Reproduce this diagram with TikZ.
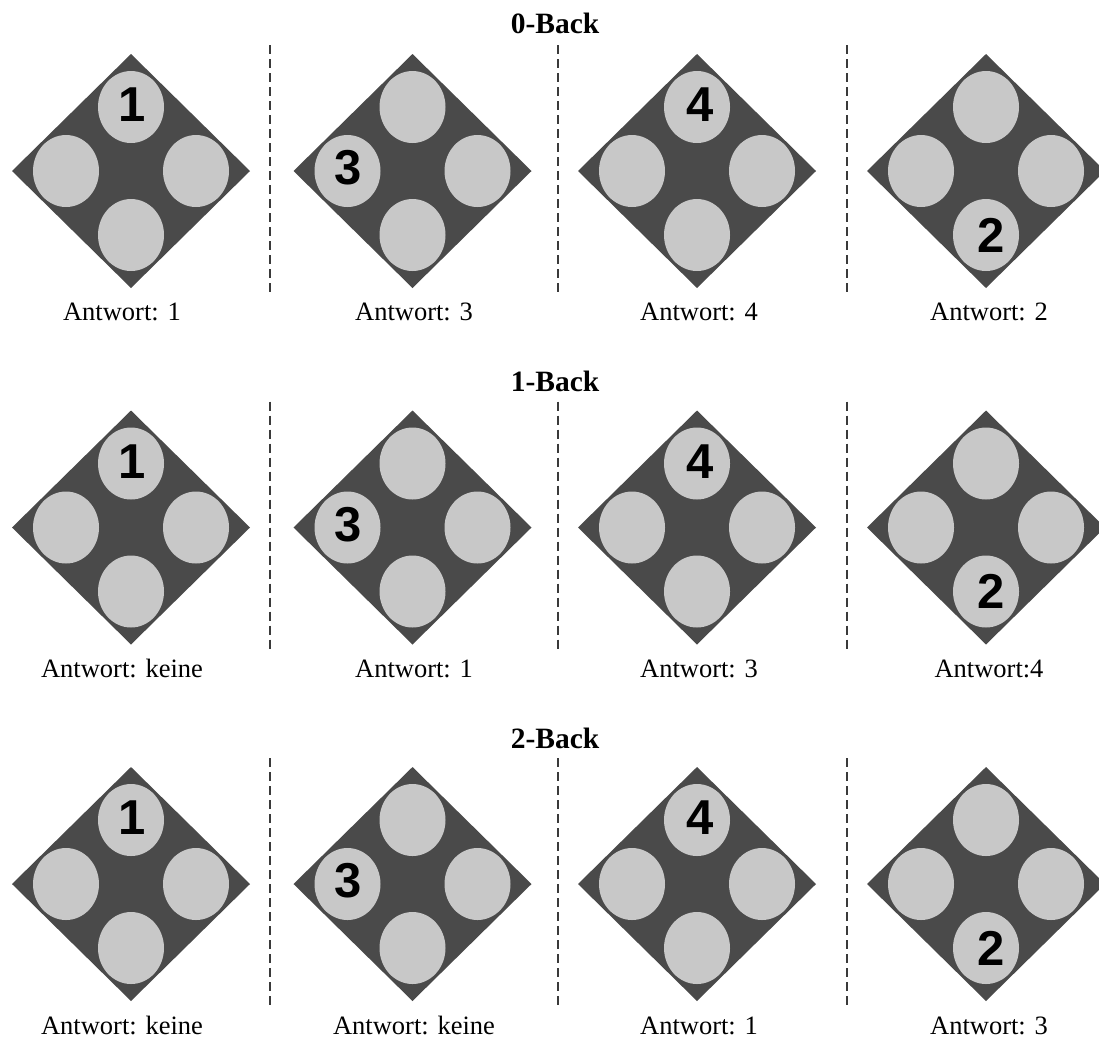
\documentclass[tikz,border=0pt]{standalone}
\usepackage{fontspec}
\setmainfont{Liberation Serif}
\newfontfamily\digitfont{Liberation Sans}
\definecolor{dia}{HTML}{4A4A4A}
\definecolor{dot}{HTML}{C8C8C8}
\definecolor{sepgray}{HTML}{3A3A3A}
\newcommand\nbackboard[2]{%
  \fill[dia] (#1-119,#2) -- (#1,#2-117) -- (#1+119,#2) -- (#1,#2+117) -- cycle;
  \fill[dot] (#1,#2-64) ellipse [x radius=33pt, y radius=36pt];
  \fill[dot] (#1,#2+64) ellipse [x radius=33pt, y radius=36pt];
  \fill[dot] (#1-65,#2) ellipse [x radius=33pt, y radius=36pt];
  \fill[dot] (#1+65,#2) ellipse [x radius=33pt, y radius=36pt];
}
\begin{document}
\begin{tikzpicture}[x=1pt,y=-1pt,
  lab/.style={font=\fontsize{26.5}{30}\selectfont, anchor=base, inner sep=0pt},
  ttl/.style={font=\fontsize{29.5}{33}\selectfont\bfseries, anchor=base, inner sep=0pt},
  dig/.style={font=\digitfont\fontsize{49}{50}\selectfont\bfseries, inner sep=0pt},
  sep/.style={draw=sepgray, line width=1.8pt, dash pattern=on 9pt off 5pt}]
\useasboundingbox (0,0) rectangle (1099,1039);
\clip (0,0) rectangle (1099,1039);

% ---------- Row 1: 0-Back ----------
\node[ttl] (t0) at (555,33) {0-Back};
\nbackboard{131}{171}
\nbackboard{412.5}{171}
\nbackboard{697}{171}
\nbackboard{986}{171}
\node[dig] (r0d1) at (132,105) {1};
\node[dig] (r0d2) at (348,168) {3};
\node[dig] (r0d3) at (700,105) {4};
\node[dig] (r0d4) at (991,235) {2};
\coordinate (r0s1t) at (270,45);  \coordinate (r0s1b) at (270,296);
\coordinate (r0s2t) at (558,45);  \coordinate (r0s2b) at (558,296);
\coordinate (r0s3t) at (847,45);  \coordinate (r0s3b) at (847,296);
\draw[sep] (r0s1t) -- (r0s1b);
\draw[sep] (r0s2t) -- (r0s2b);
\draw[sep] (r0s3t) -- (r0s3b);
\node[lab] (r0a1) at (122,320) {Antwort: 1};
\node[lab] (r0a2) at (414,320) {Antwort: 3};
\node[lab] (r0a3) at (699,320) {Antwort: 4};
\node[lab] (r0a4) at (989,320) {Antwort: 2};

% ---------- Row 2: 1-Back ----------
\node[ttl] (t1) at (555,391) {1-Back};
\nbackboard{131}{527.5}
\nbackboard{412.5}{527.5}
\nbackboard{697}{527.5}
\nbackboard{986}{527.5}
\node[dig] (r1d1) at (132,461.5) {1};
\node[dig] (r1d2) at (348,524.5) {3};
\node[dig] (r1d3) at (700,461.5) {4};
\node[dig] (r1d4) at (991,591.5) {2};
\coordinate (r1s1t) at (270,401.5);  \coordinate (r1s1b) at (270,652.5);
\coordinate (r1s2t) at (558,401.5);  \coordinate (r1s2b) at (558,652.5);
\coordinate (r1s3t) at (847,401.5);  \coordinate (r1s3b) at (847,652.5);
\draw[sep] (r1s1t) -- (r1s1b);
\draw[sep] (r1s2t) -- (r1s2b);
\draw[sep] (r1s3t) -- (r1s3b);
\node[lab] (r1a1) at (122,677) {Antwort: keine};
\node[lab] (r1a2) at (414,677) {Antwort: 1};
\node[lab] (r1a3) at (699,677) {Antwort: 3};
\node[lab] (r1a4) at (989,677) {Antwort:4};

% ---------- Row 3: 2-Back ----------
\node[ttl] (t2) at (555,748) {2-Back};
\nbackboard{131}{884}
\nbackboard{412.5}{884}
\nbackboard{697}{884}
\nbackboard{986}{884}
\node[dig] (r2d1) at (132,818) {1};
\node[dig] (r2d2) at (348,881) {3};
\node[dig] (r2d3) at (700,818) {4};
\node[dig] (r2d4) at (991,948) {2};
\coordinate (r2s1t) at (270,758);  \coordinate (r2s1b) at (270,1009);
\coordinate (r2s2t) at (558,758);  \coordinate (r2s2b) at (558,1009);
\coordinate (r2s3t) at (847,758);  \coordinate (r2s3b) at (847,1009);
\draw[sep] (r2s1t) -- (r2s1b);
\draw[sep] (r2s2t) -- (r2s2b);
\draw[sep] (r2s3t) -- (r2s3b);
\node[lab] (r2a1) at (122,1034) {Antwort: keine};
\node[lab] (r2a2) at (414,1034) {Antwort: keine};
\node[lab] (r2a3) at (699,1034) {Antwort: 1};
\node[lab] (r2a4) at (989,1034) {Antwort: 3};
\end{tikzpicture}
\end{document}
